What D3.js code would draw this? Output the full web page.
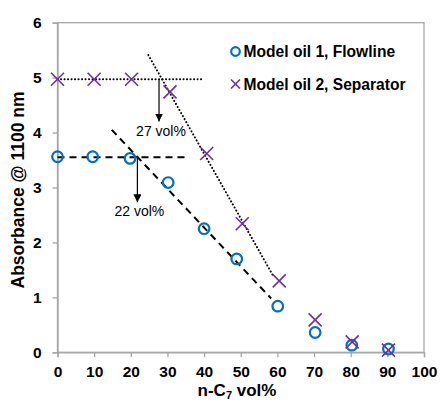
<!DOCTYPE html>
<html><head><meta charset="utf-8">
<script src="https://cdn.jsdelivr.net/npm/d3@7"></script>
<style>
html,body{margin:0;padding:0;background:#fff;}
svg{display:block;font-family:"Liberation Sans",Arial,sans-serif;}
</style></head>
<body>
<svg id="c" width="440" height="406"></svg>
<script>
// Data
const oil1X = [0, 9.6, 19.8, 30.2, 40.0, 48.9, 60.1, 70.3, 80.3, 90.3];
const oil1Y = [3.56, 3.56, 3.53, 3.09, 2.25, 1.70, 0.84, 0.36, 0.13, 0.06];
const oil2X = [0, 10, 20.2, 30.7, 40.7, 50.4, 60.5, 70.3, 80.4, 90.3];
const oil2Y = [4.97, 4.97, 4.97, 4.74, 3.62, 2.34, 1.30, 0.59, 0.19, 0.04];
const seriesNames = ["Model oil 1, Flowline", "Model oil 2, Separator"];
const xTicks = [0, 10, 20, 30, 40, 50, 60, 70, 80, 90, 100];
const yTicks = [0, 1, 2, 3, 4, 5, 6];
// trend lines [x1,y1,x2,y2]
const oil1Flat = [0, 3.55, 35.2, 3.55];
const oil1Slope = [14.8, 4.05, 58.3, 0.98];
const oil2Flat = [0, 4.97, 39.6, 4.97];
const oil2Slope = [24.8, 5.41, 58.7, 1.41];
// annotations [x, yStart, yEnd, label]
const onset1 = [21.8, 3.55, 2.73, "22 vol%"];
const onset2 = [27.7, 4.97, 4.2, "27 vol%"];

const svg = d3.select("#c");
const L = 57.5, R = 424, T = 22.7, B = 352.3;
const x = d3.scaleLinear().domain([0, 100]).range([L, R]);
const y = d3.scaleLinear().domain([0, 6]).range([B, T]);
const grey = "#a6a6a6";
const blue = "#0070c0", purple = "#7030a0";

// frame
svg.append("rect").attr("x", L).attr("y", T).attr("width", R - L).attr("height", B - T)
  .attr("fill", "none").attr("stroke", grey).attr("stroke-width", 1.3);

const xa = svg.append("g").attr("transform", `translate(0,${B})`)
  .call(d3.axisBottom(x).tickValues(xTicks).tickSize(5).tickPadding(9).tickFormat(d3.format("d")));
const ya = svg.append("g").attr("transform", `translate(${L},0)`)
  .call(d3.axisLeft(y).tickValues(yTicks).tickSize(5).tickPadding(11).tickFormat(d3.format("d")));
[xa, ya].forEach(a => {
  a.select(".domain").attr("stroke", grey).attr("stroke-width", 1.3);
  a.selectAll(".tick line").attr("stroke", grey).attr("stroke-width", 1.3);
  a.selectAll("text").attr("fill", "#000").style("font-size", "15.5px").style("font-weight", "bold")
   .style("font-family", "'Liberation Sans',Arial,sans-serif");
});

// axis titles
svg.append("text").attr("transform", `translate(24,190) rotate(-90)`)
  .attr("text-anchor", "middle").style("font-size", "17.5px").style("font-weight", "bold")
  .text("Absorbance @ 1100 nm");
const xt = svg.append("text").attr("x", 237).attr("y", 396).attr("text-anchor", "middle")
  .style("font-size", "17px").style("font-weight", "bold");
xt.append("tspan").text("n-C");
xt.append("tspan").attr("dy", 3).style("font-size", "11px").text("7");
xt.append("tspan").attr("dy", -3).text(" vol%");

// trend lines
function seg(s, dash, cap) {
  svg.append("line").attr("x1", x(s[0])).attr("y1", y(s[1])).attr("x2", x(s[2])).attr("y2", y(s[3]))
    .attr("stroke", "#000").attr("stroke-width", 2).attr("stroke-dasharray", dash).attr("stroke-linecap", cap);
}
seg(oil2Flat, "0.1,3.4", "round");
seg(oil2Slope, "0.1,3.4", "round");
seg(oil1Flat, "7,5", "butt");
seg(oil1Slope, "7,5", "butt");

// arrows
svg.append("defs").append("marker").attr("id", "ah").attr("viewBox", "0 0 10 10")
  .attr("refX", 10).attr("refY", 5).attr("markerWidth", 8).attr("markerHeight", 8)
  .attr("markerUnits", "userSpaceOnUse").attr("orient", "auto")
  .append("path").attr("d", "M0,0 L10,5 L0,10 Z").attr("fill", "#000");
[onset1, onset2].forEach(a => {
  svg.append("line").attr("x1", x(a[0])).attr("y1", y(a[1])).attr("x2", x(a[0])).attr("y2", y(a[2]))
    .attr("stroke", "#000").attr("stroke-width", 1.2).attr("marker-end", "url(#ah)");
  svg.append("text").attr("x", x(a[0]) + 2).attr("y", y(a[2]) + 14).attr("text-anchor", "middle")
    .style("font-size", "14px").text(a[3]);
});

// markers
const crossPath = s => `M${-s},${-s}L${s},${s}M${-s},${s}L${s},${-s}`;
svg.append("g").selectAll("circle").data(oil1X).join("circle")
  .attr("cx", d => x(d)).attr("cy", (d, i) => y(oil1Y[i])).attr("r", 5.3)
  .attr("fill", "none").attr("stroke", blue).attr("stroke-width", 2.2);
svg.append("g").selectAll("path").data(oil2X).join("path")
  .attr("transform", (d, i) => `translate(${x(d)},${y(oil2Y[i])})`)
  .attr("d", crossPath(6.5)).attr("fill", "none").attr("stroke", purple).attr("stroke-width", 1.6);

// legend
const lg = svg.append("g");
lg.append("circle").attr("cx", 235.5).attr("cy", 51.5).attr("r", 4.3).attr("fill", "none")
  .attr("stroke", blue).attr("stroke-width", 2.2);
lg.append("path").attr("transform", "translate(235.5,84)").attr("d", crossPath(4.5))
  .attr("fill", "none").attr("stroke", purple).attr("stroke-width", 1.6);
lg.selectAll("text").data(seriesNames).join("text")
  .attr("x", 243.5).attr("y", (d, i) => 57 + i * 32.5)
  .style("font-size", "15.6px").style("font-weight", "bold").text(d => d);
</script>
</body></html>
